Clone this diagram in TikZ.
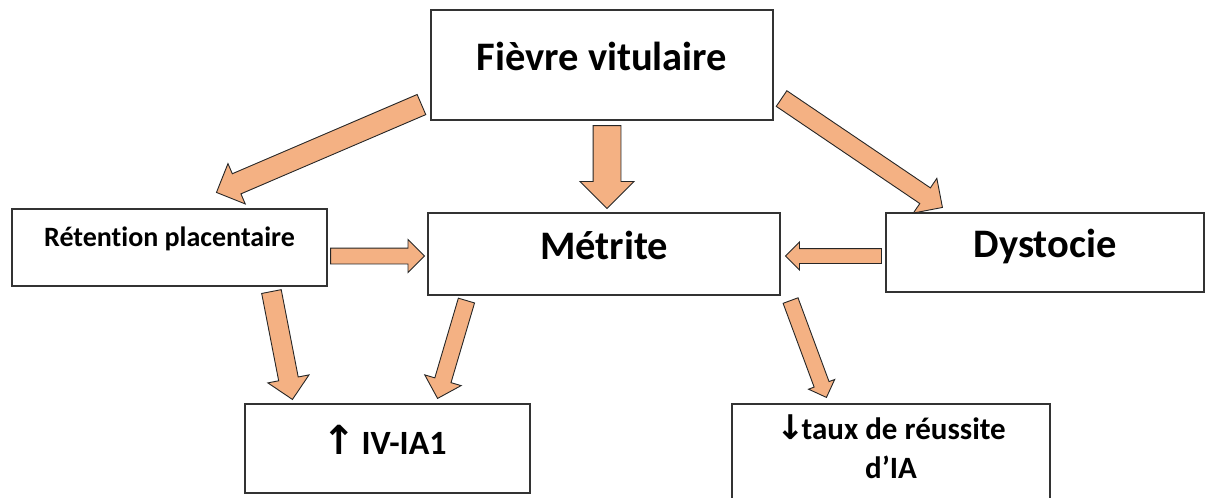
\documentclass[tikz,border=0pt]{standalone}
\usepackage{fontspec}
\setmainfont{Carlito}[Ligatures=NoCommon]
\newfontfamily\arrowfont{DejaVu Sans}
\usetikzlibrary{shapes.arrows,calc}
\definecolor{peach}{HTML}{F4B183}
\begin{document}
\begin{tikzpicture}[x=1pt, y=-1pt, line join=miter,
    box/.style={draw=black!80, line width=1.1pt, inner sep=0pt},
    big/.style={font=\fontsize{40.5}{44}\selectfont\bfseries, inner sep=0pt},
    mid/.style={font=\fontsize{34}{40}\selectfont\bfseries, inner sep=0pt},
    low/.style={font=\fontsize{31}{39}\selectfont\bfseries, inner sep=0pt},
    small/.style={font=\fontsize{28}{30}\selectfont\bfseries, inner sep=0pt},
    flow/.style 2 args={single arrow, draw=black!85, fill=peach, line width=0.9pt,
      inner xsep=0pt, inner ysep={#1/2}, outer sep=0pt,
      single arrow head extend={(#2-#1)/2}, single arrow tip angle=90,
      pos=0, anchor=tail, sloped, allow upside down}]
  \useasboundingbox (0,0) rectangle (1205,498);
  \clip (0,0) rectangle (1205,498);
  % boxes
  \node[box, minimum width=342, minimum height=110,
    label={[big, yshift=9pt]center:Fièvre vitulaire}] (fievre) at (602,65) {};
  \node[box, minimum width=315, minimum height=77,
    label={[small, yshift=9pt]center:Rétention placentaire}] (retention) at (169.5,247.5) {};
  \node[box, minimum width=352, minimum height=82,
    label={[big, yshift=9pt]center:Métrite}] (metrite) at (604,254) {};
  \node[box, minimum width=318, minimum height=79,
    label={[big, yshift=6pt]center:Dystocie}] (dystocie) at (1045,252.5) {};
  \node[box, minimum width=285, minimum height=89,
    label={[mid, xshift=-3pt, yshift=9pt]center:{\arrowfont\fontsize{40}{40}\selectfont↑}\,IV-IA1}] (iv) at (387.5,448.5) {};
  \node[box, minimum width=318, minimum height=120,
    label={[low, align=center, yshift=17pt]center:{\arrowfont\fontsize{34}{34}\selectfont↓}\kern-3pt taux de réussite\\d’IA}] (taux) at (891,464) {};
  % arrow ends
  \coordinate (a1) at ([shift={(-9,-16)}]fievre.south west);
  \coordinate (b1) at ([shift={(205,-16)}]retention.north west);
  \coordinate (a2) at ([shift={(5,5)}]fievre.south);
  \coordinate (b2) at ([shift={(3,-4)}]metrite.north);
  \coordinate (a3) at ([shift={(8,-22)}]fievre.south east);
  \coordinate (b3) at ([shift={(57,-5)}]dystocie.north west);
  \coordinate (a4) at ([shift={(3,8.5)}]retention.east);
  \coordinate (b4) at ([shift={(-3,2)}]metrite.west);
  \coordinate (a5) at ([shift={(-4,3.5)}]dystocie.west);
  \coordinate (b5) at ([shift={(5,2)}]metrite.east);
  \coordinate (a6) at ([shift={(260,5)}]retention.south west);
  \coordinate (b6) at ([shift={(48,-4)}]iv.north west);
  \coordinate (a7) at ([shift={(39,5)}]metrite.south west);
  \coordinate (b7) at ([shift={(-93,-5)}]iv.north east);
  \coordinate (a8) at ([shift={(10,5)}]metrite.south east);
  \coordinate (b8) at ([shift={(95,-6)}]taux.north west);
  % block arrows
  \path let \p1=($(b1)-(a1)$), \n1={veclen(\x1,\y1)} in
    (a1) -- (b1) node[flow={21}{43}, minimum height=\n1] (f1) {};
  \path let \p1=($(b2)-(a2)$), \n1={veclen(\x1,\y1)} in
    (a2) -- (b2) node[flow={27}{53}, minimum height=\n1] (f2) {};
  \path let \p1=($(b3)-(a3)$), \n1={veclen(\x1,\y1)} in
    (a3) -- (b3) node[flow={18}{41}, minimum height=\n1] (f3) {};
  \path let \p1=($(b4)-(a4)$), \n1={veclen(\x1,\y1)} in
    (a4) -- (b4) node[flow={15}{32}, minimum height=\n1] (f4) {};
  \path let \p1=($(b5)-(a5)$), \n1={veclen(\x1,\y1)} in
    (a5) -- (b5) node[flow={14}{27}, minimum height=\n1] (f5) {};
  \path let \p1=($(b6)-(a6)$), \n1={veclen(\x1,\y1)} in
    (a6) -- (b6) node[flow={19}{41}, minimum height=\n1] (f6) {};
  \path let \p1=($(b7)-(a7)$), \n1={veclen(\x1,\y1)} in
    (a7) -- (b7) node[flow={16}{37}, minimum height=\n1] (f7) {};
  \path let \p1=($(b8)-(a8)$), \n1={veclen(\x1,\y1)} in
    (a8) -- (b8) node[flow={15}{27}, minimum height=\n1] (f8) {};
\end{tikzpicture}
\end{document}
